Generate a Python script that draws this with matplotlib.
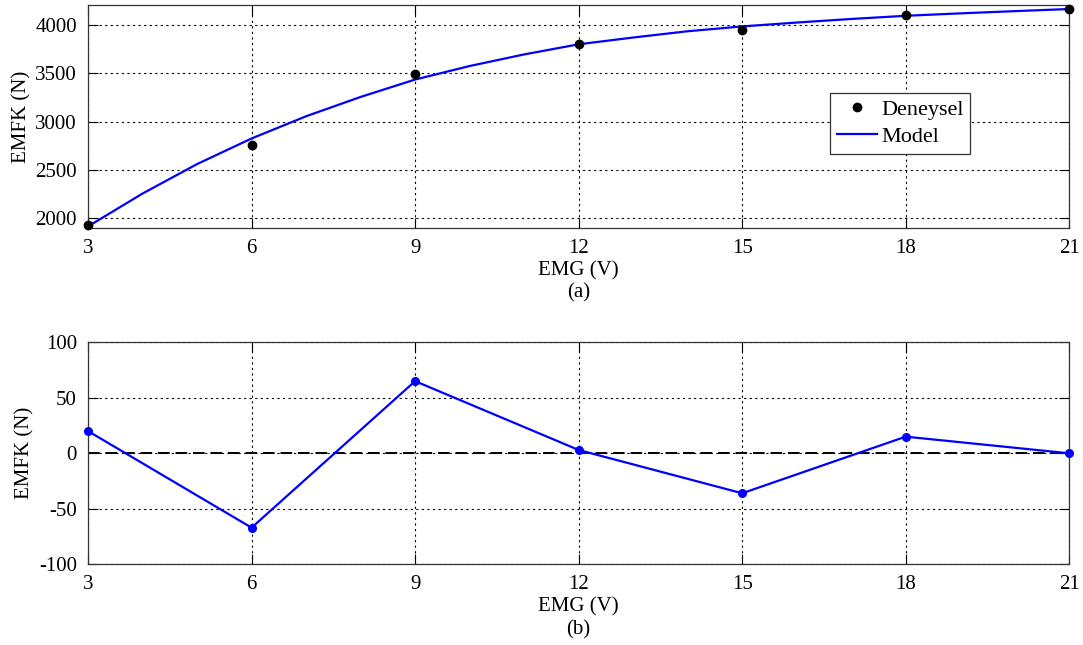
import matplotlib
matplotlib.use("Agg")
import matplotlib.pyplot as plt

plt.rcParams["font.family"] = ["Liberation Serif", "DejaVu Serif"]
plt.rcParams["font.size"] = 15
plt.rcParams["axes.unicode_minus"] = False

# experimental points (a)
emg = [3, 6, 9, 12, 15, 18, 21]
emfk_exp = [1925, 2755, 3495, 3800, 3948, 4100, 4162]

# model curve
emg_model = list(range(3, 22))
emfk_model = [1915, 2255, 2560, 2825, 3055, 3255, 3435, 3575, 3695, 3800,
              3870, 3935, 3985, 4025, 4062, 4095, 4120, 4143, 4165]

# residuals (b)
residual = [20, -67, 65, 3, -36, 15, 0]

xticks = [3, 6, 9, 12, 15, 18, 21]


def style_axes(ax):
    ax.set_xlim(3, 21)
    ax.set_xticks(xticks)
    ax.grid(True, color="black", linestyle=(0, (2, 3)), linewidth=0.8)
    ax.tick_params(direction="in", top=True, right=True, length=7, width=0.8, pad=8)
    for s in ax.spines.values():
        s.set_color("#333333")
        s.set_linewidth(0.9)


fig = plt.figure(figsize=(10.83, 6.45), dpi=100)

ax1 = fig.add_axes([0.0813, 0.646, 0.906, 0.346])
ax1.plot(emg_model, emfk_model, color="blue", linewidth=1.6, label="Model", zorder=3)
ax1.plot(emg, emfk_exp, linestyle="none", marker="o", markersize=6, color="black",
         label="Deneysel", zorder=4, clip_on=False)
ax1.set_ylim(1895, 4205)
ax1.set_yticks([2000, 2500, 3000, 3500, 4000])
style_axes(ax1)
ax1.set_ylabel("EMFK (N)", labelpad=3)
ax1.set_xlabel("EMG (V)", labelpad=2)
h, l = ax1.get_legend_handles_labels()
leg = ax1.legend(h[::-1], l[::-1], loc="upper left", bbox_to_anchor=(0.756, 0.608),
                 fontsize=16, fancybox=False, edgecolor="#333333", framealpha=1,
                 handlelength=1.8, borderpad=0.3, labelspacing=0.3, handletextpad=0.2,
                 borderaxespad=0)
leg.get_frame().set_linewidth(0.9)
fig.text(0.534, 0.5457, "(a)", ha="center", va="center", fontsize=15)

ax2 = fig.add_axes([0.0813, 0.1251, 0.906, 0.3442])
ax2.axhline(0, color="black", linestyle=(0, (6, 3)), linewidth=1.4, zorder=2)
ax2.plot(emg, residual, color="blue", linewidth=1.6, marker="o", markersize=5.5, zorder=3,
         clip_on=False)
ax2.set_ylim(-100, 100)
ax2.set_yticks([-100, -50, 0, 50, 100])
style_axes(ax2)
ax2.set_ylabel("EMFK (N)", labelpad=3)
ax2.set_xlabel("EMG (V)", labelpad=2)
fig.text(0.534, 0.023, "(b)", ha="center", va="center", fontsize=15)

fig.savefig("out.png", dpi=100)
